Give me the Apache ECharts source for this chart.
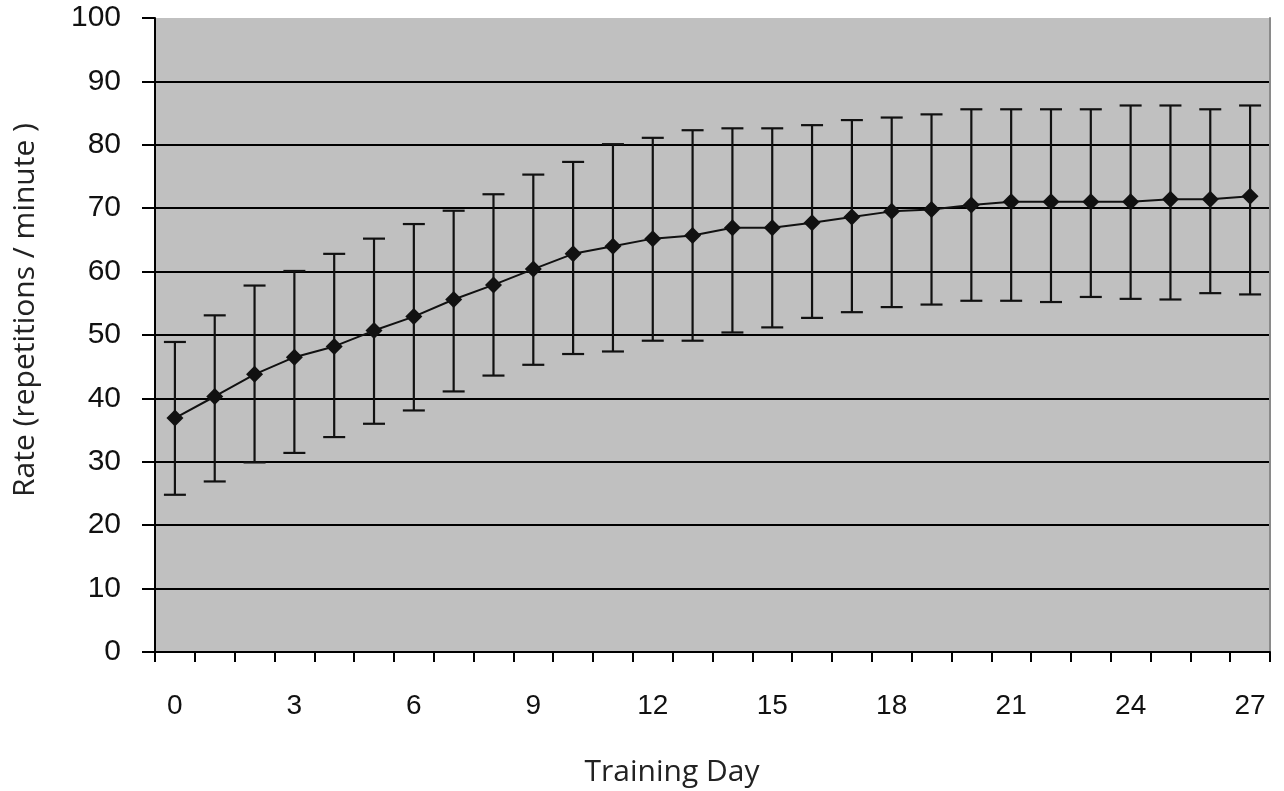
<!DOCTYPE html>
<html>
<head>
<meta charset="utf-8">
<script src="https://cdn.jsdelivr.net/npm/echarts@6/dist/echarts.min.js"></script>
<style>
  html, body { margin: 0; padding: 0; background: #fff; }
  #chart { width: 1284px; height: 791px; }
</style>
</head>
<body>
<div id="chart"></div>
<script>
// Training days 0..27
const days = Array.from({ length: 28 }, (_, i) => String(i));

// Mean rate per day (repetitions / minute)
const meanRate = [
  36.9, 40.3, 43.8, 46.5, 48.2, 50.7, 52.9, 55.6, 57.9, 60.4,
  62.8, 64.0, 65.2, 65.7, 66.9, 66.9, 67.7, 68.6, 69.5, 69.8,
  70.5, 71.0, 71.0, 71.0, 71.0, 71.4, 71.4, 71.9
];

// Upper end of each error bar
const upperBar = [
  48.9, 53.1, 57.8, 60.1, 62.8, 65.2, 67.5, 69.6, 72.2, 75.3,
  77.3, 80.1, 81.1, 82.3, 82.6, 82.6, 83.1, 83.9, 84.3, 84.8,
  85.6, 85.6, 85.6, 85.6, 86.2, 86.2, 85.6, 86.2
];

// Lower end of each error bar
const lowerBar = [
  24.8, 26.9, 29.9, 31.4, 33.9, 36.0, 38.1, 41.1, 43.6, 45.3,
  47.0, 47.4, 49.1, 49.1, 50.4, 51.2, 52.7, 53.6, 54.4, 54.8,
  55.4, 55.4, 55.2, 56.0, 55.7, 55.6, 56.6, 56.4
];

const yTicks = [0, 10, 20, 30, 40, 50, 60, 70, 80, 90, 100];

const xTitle = 'Training Day';
const yTitle = 'Rate (repetitions / minute )';

const errorData = days.map((d, i) => [i, lowerBar[i], upperBar[i]]);

const chart = echarts.init(document.getElementById('chart'), null, { renderer: 'canvas' });

const labelFont = {
  color: '#111',
  fontFamily: 'Liberation Sans, Arial, sans-serif',
  fontSize: 28
};

const titleFont = {
  fill: '#222',
  fontFamily: 'Open Sans, Noto Sans, sans-serif',
  fontSize: 30
};

chart.setOption({
  animation: false,
  backgroundColor: '#ffffff',
  grid: {
    left: 155,
    right: 14,
    top: 18,
    bottom: 139,
    show: true,
    backgroundColor: '#c0c0c0',
    borderWidth: 0
  },
  graphic: [
    {
      type: 'text',
      x: 672,
      y: 772,
      style: Object.assign({ text: xTitle, align: 'center', verticalAlign: 'middle' }, titleFont)
    },
    {
      type: 'text',
      x: 25,
      y: 310,
      rotation: Math.PI / 2,
      style: Object.assign({ text: yTitle, align: 'center', verticalAlign: 'middle' }, titleFont)
    }
  ],
  xAxis: {
    type: 'category',
    data: days,
    boundaryGap: true,
    axisLine: { show: true, lineStyle: { color: '#000', width: 2 } },
    axisTick: {
      show: true,
      interval: 0,
      alignWithLabel: false,
      length: 10,
      lineStyle: { color: '#000', width: 2 }
    },
    axisLabel: Object.assign({ interval: 2, margin: 40 }, labelFont),
    splitLine: { show: false }
  },
  yAxis: [
    {
      type: 'value',
      min: yTicks[0],
      max: yTicks[yTicks.length - 1],
      interval: 10,
      axisLine: { show: true, lineStyle: { color: '#000', width: 2 } },
      axisTick: { show: true, length: 13, lineStyle: { color: '#000', width: 2 } },
      axisLabel: Object.assign({}, labelFont, { margin: 34, fontSize: 30 }),
      splitLine: {
        show: true,
        showMinLine: false,
        showMaxLine: false,
        lineStyle: { color: '#000', width: 2 }
      }
    },
    {
      type: 'value',
      position: 'right',
      min: yTicks[0],
      max: yTicks[yTicks.length - 1],
      interval: 10,
      axisLine: { show: true, lineStyle: { color: '#8a8a8a', width: 2 } },
      axisTick: { show: false },
      axisLabel: { show: false },
      splitLine: { show: false }
    }
  ],
  series: [
    {
      type: 'custom',
      name: 'range',
      data: errorData,
      z: 3,
      renderItem: function (params, api) {
        const x = api.value(0);
        const lo = api.coord([x, api.value(1)]);
        const hi = api.coord([x, api.value(2)]);
        const half = 11;
        const style = { stroke: '#111', lineWidth: 2.2 };
        return {
          type: 'group',
          children: [
            { type: 'line', shape: { x1: lo[0], y1: lo[1], x2: hi[0], y2: hi[1] }, style: style },
            { type: 'line', shape: { x1: hi[0] - half, y1: hi[1], x2: hi[0] + half, y2: hi[1] }, style: style },
            { type: 'line', shape: { x1: lo[0] - half, y1: lo[1], x2: lo[0] + half, y2: lo[1] }, style: style }
          ]
        };
      }
    },
    {
      type: 'line',
      name: 'mean',
      data: meanRate,
      z: 4,
      symbol: 'diamond',
      symbolSize: 17,
      itemStyle: { color: '#111' },
      lineStyle: { color: '#111', width: 2 }
    }
  ]
});
</script>
</body>
</html>
